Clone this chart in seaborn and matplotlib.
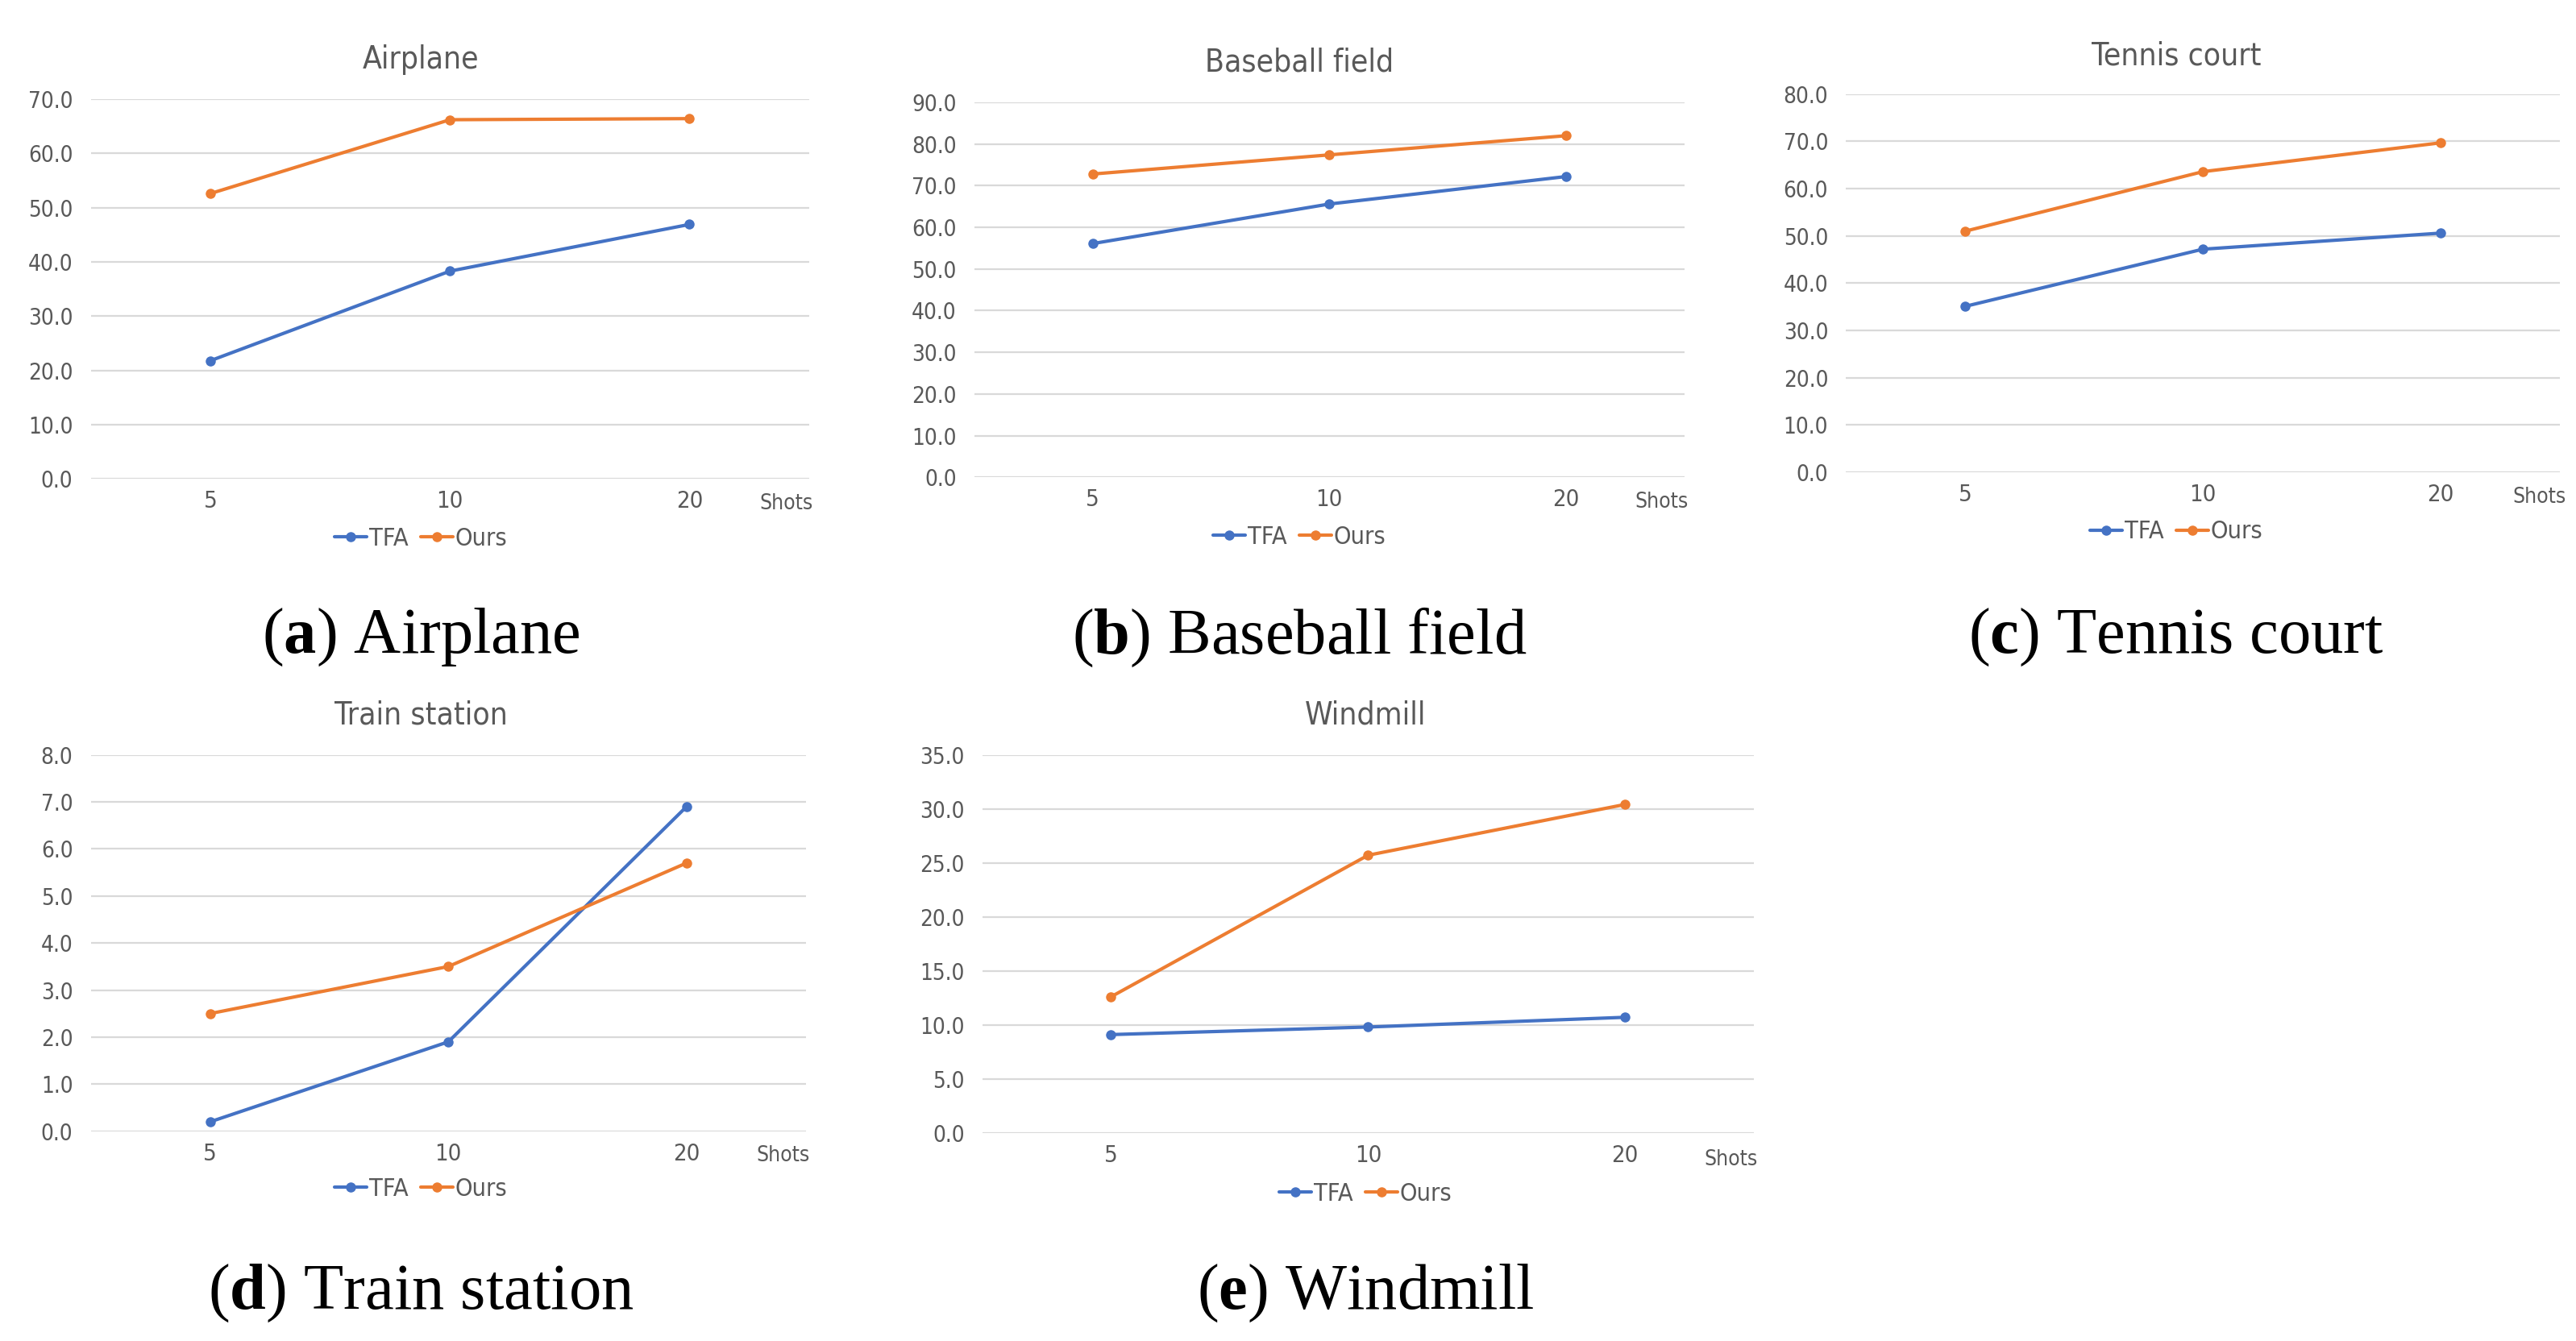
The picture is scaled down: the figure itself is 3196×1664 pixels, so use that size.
import matplotlib

matplotlib.use("Agg")
import matplotlib.pyplot as plt
import numpy as np
import pandas as pd
import seaborn as sns
from matplotlib.ticker import FormatStrFormatter

shots = ["5", "10", "20"]
methods = ["TFA", "Ours"]

airplane_tfa = [21.8, 38.3, 46.9]
airplane_ours = [52.6, 66.2, 66.4]
baseball_tfa = [56.1, 65.6, 72.2]
baseball_ours = [72.8, 77.4, 82.0]
tennis_tfa = [35.1, 47.2, 50.6]
tennis_ours = [51.0, 63.6, 69.7]
train_tfa = [0.2, 1.9, 6.9]
train_ours = [2.5, 3.5, 5.7]
windmill_tfa = [9.1, 9.8, 10.7]
windmill_ours = [12.6, 25.7, 30.4]

titles = ["Airplane", "Baseball field", "Tennis court", "Train station", "Windmill"]
letters = ["a", "b", "c", "d", "e"]
series = [
    (airplane_tfa, airplane_ours),
    (baseball_tfa, baseball_ours),
    (tennis_tfa, tennis_ours),
    (train_tfa, train_ours),
    (windmill_tfa, windmill_ours),
]
y_max = [70, 90, 80, 8, 35]
y_step = [10, 10, 10, 1, 5]

# layout, in pixels of a 1560x812 view of the page
W, H = 1560.0, 812.0
axes_px = [
    (55, 490, 60, 290),
    (590, 1020, 62, 289),
    (1118, 1550, 57, 286),
    (55, 488, 457, 685),
    (595, 1062, 457, 686),
]
center_x = [255, 787, 1318, 255, 827]
title_y = [36, 38, 34, 433, 433]
legend_y = [326, 325, 322, 720, 723]
caption_y = [386, 386, 386, 783, 783]
shots_pos = [(476, 305), (1006, 304), (1538, 301), (474, 700), (1048, 702)]

palette = {"TFA": "#4472C4", "Ours": "#ED7D31"}
text_color = "#595959"

sns.set_theme(style="white")
plt.rcParams["font.family"] = ["DejaVu Sans"]
plt.rcParams["font.stretch"] = "condensed"
plt.rcParams["mathtext.fontset"] = "custom"
plt.rcParams["mathtext.rm"] = "Liberation Serif"
plt.rcParams["mathtext.bf"] = "Liberation Serif:bold"

fig = plt.figure(figsize=(15.98, 8.32), dpi=200)
fig.patch.set_facecolor("white")


def fx(x):
    return x / W


def fy(y):
    return 1 - y / H


for i, title in enumerate(titles):
    left, right, top, bottom = axes_px[i]
    ax = fig.add_axes([fx(left), fy(bottom), (right - left) / W, (bottom - top) / H])

    tfa, ours = series[i]
    df = pd.DataFrame(
        {
            "Shots": shots * 2,
            "Value": list(tfa) + list(ours),
            "Method": ["TFA"] * 3 + ["Ours"] * 3,
        }
    )
    sns.lineplot(
        data=df,
        x="Shots",
        y="Value",
        hue="Method",
        hue_order=methods,
        palette=palette,
        sort=False,
        marker="o",
        markersize=4.5,
        markeredgewidth=0,
        linewidth=1.5,
        legend=False,
        ax=ax,
    )

    ax.set_xlim(-0.5, 2.5)
    ax.set_ylim(0, y_max[i])
    ax.set_yticks(np.arange(0, y_max[i] + y_step[i] / 2, y_step[i]))
    ax.yaxis.set_major_formatter(FormatStrFormatter("%.1f"))
    ax.yaxis.grid(True, color="#D9D9D9", linewidth=0.8)
    ax.xaxis.grid(False)
    ax.set_axisbelow(True)
    for s in ax.spines.values():
        s.set_visible(False)
    ax.tick_params(axis="y", length=0, pad=8, labelsize=10, labelcolor=text_color)
    ax.tick_params(axis="x", length=0, pad=5, labelsize=10.5, labelcolor=text_color)
    ax.set_xlabel("")
    ax.set_ylabel("")

    fig.text(fx(center_x[i]), fy(title_y[i]), title, ha="center", va="center",
             fontsize=14, color=text_color)
    sx, sy = shots_pos[i]
    fig.text(fx(sx), fy(sy), "Shots", ha="center", va="center",
             fontsize=9.5, color=text_color)

    ax.legend(
        handles=ax.lines[:2],
        labels=methods,
        loc="center",
        bbox_to_anchor=(fx(center_x[i]), fy(legend_y[i])),
        bbox_transform=fig.transFigure,
        ncol=2,
        frameon=False,
        fontsize=11,
        handlelength=1.3,
        handletextpad=0.1,
        columnspacing=0.5,
        labelcolor=text_color,
    )

    fig.text(
        fx(center_x[i]),
        fy(caption_y[i]),
        "($\\mathbf{" + letters[i] + "}$) " + title,
        ha="center",
        va="center",
        fontsize=29,
        family="Liberation Serif",
        stretch="normal",
        color="black",
    )

fig.savefig("out.png", dpi=200, facecolor="white")
